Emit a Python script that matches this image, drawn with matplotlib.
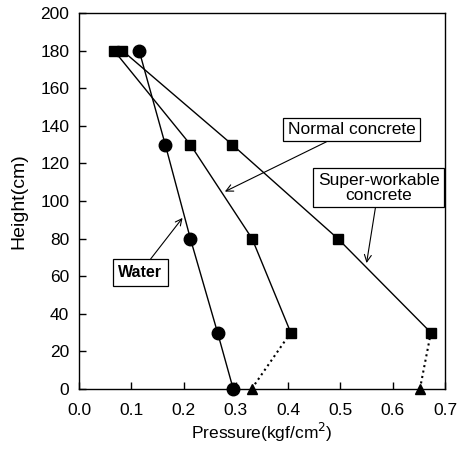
import matplotlib
matplotlib.use("Agg")
import matplotlib.pyplot as plt

plt.rcParams['font.family'] = ['Liberation Sans', 'DejaVu Sans']

heights = [180, 130, 80, 30, 0]
water_p = [0.115, 0.165, 0.213, 0.265, 0.295]
normal_h = [180, 130, 80, 30]
normal_p = [0.067, 0.213, 0.331, 0.405]
super_h = [180, 130, 80, 30]
super_p = [0.083, 0.293, 0.495, 0.673]
normal_base_p = 0.330
super_base_p = 0.652
xticks = [0.0, 0.1, 0.2, 0.3, 0.4, 0.5, 0.6, 0.7]
xticklabels = ["0.0", "0.1", "0.2", "0.3", "0.4", "0.5", "0.6", "0.7"]
yticks = list(range(0, 201, 20))

fig = plt.figure(figsize=(4.67, 4.55), dpi=100)
ax = fig.add_axes([79/467, 1-389/455, (445-79)/467, (389-13)/455])

ax.plot(water_p, heights, '-', color='black', lw=1.0, marker='o', ms=9, zorder=3, clip_on=False)
ax.plot(normal_p, normal_h, '-', color='black', lw=1.0, marker='s', ms=7, zorder=3, clip_on=False)
ax.plot(super_p, super_h, '-', color='black', lw=1.0, marker='s', ms=7, zorder=3, clip_on=False)
ax.plot([normal_p[-1], normal_base_p], [normal_h[-1], 0], ':', color='black', lw=1.5, zorder=2)
ax.plot([super_p[-1], super_base_p], [super_h[-1], 0], ':', color='black', lw=1.5, zorder=2)
ax.plot([normal_base_p, super_base_p], [0, 0], '^', color='black', ms=6.5, ls='none', zorder=3, clip_on=False)

ax.set_xlim(0, 0.7)
ax.set_ylim(0, 200)
ax.set_xticks(xticks)
ax.set_xticklabels(xticklabels)
ax.set_yticks(yticks)
ax.tick_params(direction='in', labelsize=12.5, length=5, width=1)
ax.tick_params(axis='x', pad=10)
ax.tick_params(axis='y', pad=7)
ax.set_xlabel("Pressure(kgf/cm$^2$)", fontsize=12.5, labelpad=2)
ax.set_ylabel("Height(cm)", fontsize=14, labelpad=9)
for s in ax.spines.values():
    s.set_linewidth(1.0)

bbox = dict(boxstyle='square,pad=0.25', fc='white', ec='black', lw=0.9)
arrow = dict(arrowstyle='->', color='black', lw=0.8, shrinkA=0, shrinkB=0)
ax.annotate("Normal concrete", xy=(0.279, 105), xytext=(0.521, 138),
            ha='center', va='center', fontsize=12.5, bbox=bbox, arrowprops=arrow)
ax.annotate("Super-workable\nconcrete", xy=(0.55, 67), xytext=(0.573, 107),
            ha='center', va='center', fontsize=12.5, bbox=bbox, arrowprops=arrow,
            linespacing=1.0)
ax.annotate("Water", xy=(0.198, 91), xytext=(0.117, 62),
            ha='center', va='center', fontsize=11.5, fontweight='bold',
            bbox=dict(boxstyle='square,pad=0.35', fc='white', ec='black', lw=0.9),
            arrowprops=arrow)

fig.savefig("out.png", dpi=100)
